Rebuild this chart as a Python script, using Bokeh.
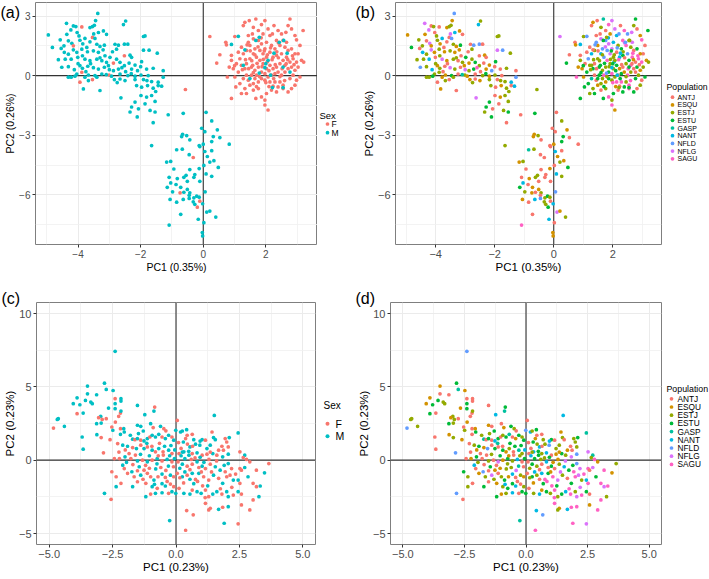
from bokeh.plotting import figure
from bokeh.models import (ColumnDataSource, Span, Title, FixedTicker,
                          CustomJSTickFormatter, Range1d)
from bokeh.core.properties import value
from bokeh.layouts import row, column
from bokeh.embed import file_html
from bokeh.resources import INLINE

FONT = "Liberation Sans"

sex_levels = ["F", "M"]
sex_colors = ["#F8766D", "#00BFC4"]
pop_levels = ["ANTJ", "ESQU", "ESTJ", "ESTU", "GASP", "NANT", "NFLD", "NFLG", "SAGU"]
pop_codes = "AQJUGNDLS"
pop_colors = ["#F8766D", "#D39200", "#93AA00", "#00BA38", "#00C19F",
              "#00B9E3", "#619CFF", "#DB72FB", "#FF61C3"]

# ---------------- panels (a)/(b): PC1 (0.35%) vs PC2 (0.26%) ----------------
pc1_ab = [
    -3.37, -2.48, -2.55, -4.37, -3.44, -4.15, -4.07, -3.88, -3.62, -3.54,
    -3.48, -4.95, -4.57, -4.82, -4.36, -4.23, -4.03, -3.97, -3.54, -3.46,
    -3.19, -3.09, -3.35, -1.91, -1.86, -4.31, -4.20, -4.15, -3.94, -3.78,
    -3.62, -3.40, -3.30, -3.16, -2.82, -2.71, -2.52, -2.41, -2.77, -1.91,
    -1.73, -1.47, -4.54, -4.44, -4.31, -4.15, -4.04, -3.88, -3.72, -3.51,
    -3.35, -3.14, -2.98, -2.77, -2.52, -2.34, -2.29, -4.63, -4.41, -4.22,
    -4.01, -3.86, -3.78, -3.62, -3.40, -3.24, -3.09, -2.87, -2.66, -2.52,
    -2.37, -2.18, -1.97, -4.52, -4.31, -4.12, -3.94, -3.86, -3.69, -3.51,
    -3.35, -3.16, -3.03, -2.87, -2.71, -2.48, -2.29, -2.10, -1.81, -1.60,
    -1.28, -3.88, -4.04, -3.67, -3.46, -3.24, -3.01, -2.93, -2.66, -2.41,
    -2.18, -1.99, -1.76, -4.31, -4.22, -4.10, -3.78, -3.54, -3.40, -2.84,
    -2.66, -2.50, -2.18, -1.91, -1.65, -1.44, -1.28, -3.94, -3.67, -3.83,
    -3.30, -2.63, -2.13, -1.97, -1.78, -1.60, -1.44, -1.33, -1.52, -1.99,
    -1.81, -1.65, -2.18, -1.86, -1.54, -2.29, -2.07, -1.70, -1.54, -1.12,
    -2.34, -2.11, -1.60, -3.70, -3.30, -3.60, -3.00, -4.00, -3.20, -2.60,
    -2.00, -1.80, -3.85, -3.50, -2.90, -4.45, -3.10, -2.30, -3.75, -2.75,
    0.21, 0.43, 0.53, 0.72, 0.74, 0.83, 0.77, 0.90, 1.01, 1.04,
    1.17, 1.22, 1.28, 1.33, 1.47, 1.60, 1.68, 1.76, 1.86, 1.97,
    2.07, 2.13, 2.26, 2.39, 2.50, 2.64, 2.71, 2.77, 2.82, 2.93,
    2.98, 3.09, 3.19, 3.14, 3.21, 3.03, 2.87, 3.09, 2.98, 2.93,
    2.82, 2.71, 2.55, 2.45, 2.34, 2.18, 2.02, 1.97, 2.07, 1.97,
    1.86, 1.76, 1.68, 1.60, 1.49, 1.38, 1.33, 1.28, 1.38, 1.12,
    0.96, 1.06, 0.90, 1.17, 1.28, 1.38, 1.22, 1.49, 1.44, 1.60,
    1.76, 1.86, 2.02, 2.18, 2.29, 2.45, 2.61, 2.71, 2.82, 2.93,
    2.66, 2.55, 2.45, 2.34, 2.23, 2.13, 2.02, 1.91, 1.81, 1.70,
    1.60, 1.49, 1.38, 1.54, 1.65, 1.76, 1.86, 1.97, 2.07, 2.18,
    2.29, 2.39, 2.50, 2.61, 2.71, 2.82, 2.93, 3.03, 2.29, 2.39,
    2.23, 2.13, 1.97, 1.86, 1.76, 1.65, 1.54, 1.44, 1.60, 1.70,
    1.81, 1.91, 2.02, 2.13, 2.23, 2.34, 2.50, 2.61, 2.77, 2.87,
    1.44, 1.65, 1.97, 2.34, 2.55, 1.12, 1.33, 1.01, 1.22, 0.90,
    2.77, 2.98, 2.66, 2.21, 1.91, 1.57, 1.55, 1.72, 1.88, 2.05,
    2.20, 2.40, 1.65, 1.95, 2.15, 2.35, 1.45, 1.60, 1.80, 2.00,
    2.25, 2.45, 2.60, 1.75, 1.50, 2.70, 2.85, 1.35, 2.10, 2.30,
    1.92, 1.58, 2.52, 2.65, 1.40, 1.85, 2.05, 2.40, 1.70, 2.10,
    2.55, 1.25, 1.00, 2.90,
    1.12, 0.90, 1.79, 1.68, 1.33, 2.07, 2.00, 1.97, 1.28, 1.79,
    1.49, 2.26, 2.43, 2.57, 2.68, 2.55, 2.77, 2.21, 2.55, 2.15,
    -0.64, 0.09, 0.27, -0.05, 0.45, 0.05, 0.53, -0.66, -0.53, -0.69,
    -0.43, 0.32, -0.13, 0.00, -0.85, -0.67, 0.27, 0.83, -1.65, -0.45,
    -0.32, 0.13, 0.27, 0.34, 0.21, -1.17, -1.04, -0.11, 0.05, -0.94,
    -0.43, -0.13, 0.02, 0.48, -0.55, -0.27, 0.09, -1.09, -0.83, -0.62,
    -0.30, 0.27, -1.04, -0.87, -0.72, -0.51, -0.11, -1.15, -0.98, -0.74,
    -0.62, -0.51, -0.43, 0.06, -0.45, -1.06, -0.85, -0.64, -0.45, -0.30,
    -0.21, -0.13, -0.11, -0.27, -0.19, -0.02, -0.32, 0.11, 0.21, -0.72,
    0.40, -0.16, 0.02, -1.09, -0.03, -0.02, -0.57,
]
pc2_ab = [
    3.13, 2.75, 2.57, 2.63, 2.77, 2.50, 2.47, 2.45, 2.42, 2.47,
    2.53, 2.05, 1.80, 1.42, 2.08, 2.30, 2.17, 2.00, 1.92, 1.87,
    2.25, 2.08, 2.17, 1.97, 2.00, 1.75, 1.63, 1.50, 1.78, 1.87,
    1.70, 1.58, 1.47, 1.53, 1.58, 1.53, 1.58, 1.58, 1.33, 1.28,
    1.28, 1.13, 1.37, 1.17, 1.08, 1.30, 1.17, 1.33, 1.42, 1.25,
    1.17, 1.00, 0.92, 0.83, 1.00, 1.03, 0.92, 0.80, 0.83, 0.83,
    0.92, 1.00, 0.83, 0.75, 0.83, 0.75, 0.67, 0.63, 0.67, 0.50,
    0.63, 0.53, 0.70, 0.42, 0.45, 0.30, 0.50, 0.37, 0.47, 0.40,
    0.33, 0.42, 0.50, 0.25, 0.33, 0.20, 0.33, 0.25, 0.33, 0.37,
    0.25, 0.17, 0.08, 0.03, 0.00, 0.08, 0.03, -0.03, 0.08, 0.00,
    -0.03, 0.03, 0.00, -0.08, -0.08, -0.03, -0.08, -0.20, -0.08, -0.20,
    -0.17, -0.25, -0.20, -0.20, -0.30, -0.33, -0.08, -0.33, -0.25, -0.67,
    -0.75, -1.12, -0.50, -0.58, -0.50, -0.63, -0.50, -0.53, -0.80, -1.00,
    -1.08, -1.00, -1.33, -1.42, -1.30, -1.58, -1.67, -1.75, -1.83, -1.97,
    -1.83, -2.08, -2.37, 1.20, 0.90, 0.60, 0.30, 0.60, 1.30, 0.40,
    0.45, -0.25, 1.60, 2.10, 1.20, 1.50, 0.05, 0.10, 0.20, -0.35,
    1.97, 0.63, 1.05, 1.68, 1.55, 0.43, -0.07, -1.15, 1.97, -0.57,
    -0.40, -0.90, 2.52, 2.68, 2.77, 2.43, 2.85, 2.27, 2.57, 2.77,
    2.35, 2.02, 2.52, 2.27, 2.10, 2.18, 2.52, 2.85, 2.35, 2.02,
    1.80, 1.52, 2.27, 0.77, 0.68, 1.10, 0.85, -0.07, -0.23, -0.48,
    -0.65, -0.82, -0.48, -0.32, -0.82, -0.73, -0.90, -1.23, -1.73, -1.48,
    -1.07, -0.65, -1.15, -0.73, -0.48, -0.90, -0.65, -0.15, 0.02, 0.18,
    0.35, 0.60, 0.77, 0.85, 1.10, 1.27, 1.43, 1.52, 1.68, 1.85,
    1.77, 1.60, 1.68, 1.52, 1.35, 1.52, 1.43, 1.27, 1.35, 1.10,
    0.93, 0.77, 0.60, 0.43, 0.35, 0.52, 0.35, 0.60, 0.77, 0.93,
    1.10, 0.85, 0.60, 0.43, 0.27, 0.43, 0.18, 0.10, -0.07, 0.02,
    0.10, 0.18, 0.02, 0.18, 0.35, 0.43, 0.27, 0.43, -0.32, -0.57,
    -0.53, -0.32, -0.23, -0.15, -0.32, -0.15, 0.02, -0.23, -0.40, 0.02,
    1.27, 1.10, 0.93, 1.18, 0.93, 1.02, 1.10, 0.52, 0.68, 0.02,
    2.02, 1.35, 1.35, 1.77, 1.77, 1.18, 0.35, -0.07, 0.52, 1.02,
    -0.15, 0.68, 1.68, 2.10, 2.10, 2.10, 0.75, 0.62, 0.45, 0.70,
    0.80, 0.90, 1.05, 1.25, 1.40, 1.20, 0.35, 0.15, -0.05, -0.35,
    -0.15, -0.05, -0.25, 1.45, 1.25, 0.80, 1.00, 0.80, 0.25, 0.55,
    0.82, 0.52, 0.35, 0.60, 1.55, 1.90, 1.05, 1.65, -0.55, -0.55,
    -0.65, 0.30, 0.50, 0.55,
    1.98, 1.57, 1.93, 1.77, 1.30, 0.77, 0.60, 0.40, 0.52, 0.13,
    -0.15, 1.13, 1.68, 1.77, 1.13, 0.43, 0.18, -0.60, -0.60, 0.02,
    -1.90, -1.85, -2.28, -2.65, -2.73, -2.82, -3.12, -2.95, -3.02, -3.07,
    -3.23, -3.07, -3.52, -3.45, -3.73, -3.70, -3.32, -3.45, -3.52, -3.98,
    -4.12, -4.07, -3.78, -4.28, -4.35, -4.35, -4.32, -3.57, -3.82, -4.70,
    -4.73, -4.68, -4.52, -4.62, -5.02, -4.98, -4.95, -5.12, -5.18, -5.12,
    -5.12, -5.07, -5.40, -5.48, -5.62, -5.32, -5.32, -5.62, -5.85, -5.90,
    -5.87, -5.73, -5.90, -5.85, -6.02, -6.23, -6.37, -6.23, -6.18, -6.15,
    -6.07, -6.12, -6.32, -6.48, -6.62, -6.45, -6.35, -6.87, -6.82, -6.98,
    -7.12, -7.23, -7.40, -7.52, -7.90, -8.07, -0.70,
]
sex_ab = (
    "MMMMMMMFMM" "MMMMMMMMFM" "MMMMMMMFMM" "MMMMMMMMMM"
    "MMMMMMMMMM" "MMMMFMMMMM" "MMMMMMMFMM" "MMMMMMMMMM"
    "MMMMMMMMMM" "MFMMMMFMMM" "MMMMMMMFMM" "MMMMMMMFMM"
    "MMMMMMMMMM" "MMMMMMMMMM" "MMMMMMMMMM" "MMMMMMMMMM"
    "FFFFFFFFFF" "FFFFFFFFFF" "FFFFFFFFFF" "FFFFFFFFFF"
    "FFFFFFFFFF" "FFFFFFFFFF" "FFFFFFFFFF" "FFFFFFFFFF"
    "FFFFFFFFFF" "FFFFFFFFFF" "FFFFFFFFFF" "FFFFFFFFFF"
    "FFFFFFFFFF" "FFFFFFFFFF" "FFFFFFFFFF" "FFFFFFFFFF"
    "FFFFFFFFFF" "FFFFFFFFFF" "FFFF"
    "MMMMMMMMMM" "MMMMMMMMMM"
    "MMMMMMMMMM" "MMMMMMMMMM" "FMMMMMMMMM" "MMMMMMMMMM"
    "MMMMMMMMMF" "MMMMMMMMMM" "MMFMFMMMMM" "MMMMMMF"
)
pop_ab = (
    "DJNLQAJAQJ" "JQJUQLAJAD" "QANJJALQJN" "AJQUADDAJL"
    "DJANJLQJAJ" "QAUJAQAJJN" "AJLQJAJQUJ" "AQUDJNQJAL"
    "JAQJUAQDAJ" "AJJQUAJQAJ" "QJAJJUQAJQ" "AQJAJNDAJQ"
    "ALJAQJANJA" "QJUAJUAJUA" "JUAQJALJQS" "AJQLAJGUAJ"
    "LUAAQQSUJU" "UJAQAJGASL" "LNASDLJUAQ" "SAUQJASUAJ"
    "AUSJUAUJQS" "SJUAQUJGAU" "QAJDNJAQDL" "DLNJUSJAUQ"
    "SUJAQUJJSD" "NJAUJJUSJA" "UQSJAUQJSU" "ASJUQJUAJS"
    "DLJANUDSAJ" "ADLSJAUQJA" "USLDQAJUJN" "SAJUDJAUJS"
    "UJSLAQSJUA" "JUSADNJLUQ" "SJUA"
    "DNJUAJUNJD" "UNDJSUAJUN"
    "UAJAQAAQJQ" "AUAQGJUAJA" "AQAQJQJANA" "AQAUJANAQJ"
    "AJNAQAAUJQ" "AQJDAQANDJ" "UJAJUNJLQA" "JNASQQJ"
)

# ---------------- panels (c)/(d): PC1 (0.23%) vs PC2 (0.23%) ----------------
pc1_cd = [
    -2.40, -2.82, -3.49, -2.75, -2.48, -3.13, -3.49, -3.90, -4.05, -3.79,
    -3.57, -3.36, -3.30, -2.17, -2.17, -2.40, -2.40, -2.66, -2.40, -2.19,
    -2.17, -2.26, -2.39, -3.90, -3.66, -2.97, -3.05, -2.91, -2.75, -3.13,
    -2.95, -1.52, -1.23, -0.84, -0.87, -4.68, -4.64, -4.83, -4.40, -3.70,
    -3.66, -3.12, -2.95, -2.86, -2.53, -2.49, -2.19, -2.06, -2.04, -2.19,
    -1.52, -1.48, -1.39, -1.29, -1.00, -0.90, -0.61, -0.48, -1.71, -1.62,
    -1.52, -1.39, -1.26, -1.13, -1.03, -0.94, -0.81, -0.68, -0.55, -0.42,
    -0.29, -0.16, -0.09, -2.30, -2.10, -1.91, -1.71, -1.56, -1.39, -1.26,
    -1.13, -0.94, -0.81, -0.68, -0.51, -0.29, -0.16, -2.43, -2.23, -2.01,
    -1.78, -1.52, -1.32, -1.13, -0.94, -0.74, -0.55, -0.35, -0.16, -0.06,
    -2.53, -2.36, -2.10, -2.04, -1.91, -1.74, -1.65, -1.52, -1.39, -1.26,
    -1.13, -1.00, -0.87, -0.71, -0.55, -0.42, -0.22, -0.09, -2.17, -2.36,
    -1.71, -1.52, -1.19, -0.94, -0.74, -0.42, -0.22, -0.09, -2.82, -2.56,
    -1.19, -1.00, -0.81, -0.55, -0.29, -0.16, -0.25, -1.85, -1.05, -0.60,
    -1.40, -0.95, -0.45, -0.70, -0.30, -1.20, -0.80, -0.40, -1.60, -0.20,
    -1.70, -1.45, -1.05, -0.75, -0.50, -0.25, -0.65, -1.15, -0.35, -0.85,
    -2.00, -1.95, -2.25, -1.30, -0.55, -0.10, -0.05, -0.40, -1.80, -2.60,
    0.05, 1.51, -0.01, 0.18, 0.25, 0.42, 0.44, 0.38, 0.64, 0.70,
    0.29, 0.55, 0.77, 0.94, 1.03, 1.16, 1.42, 1.48, 1.55, 1.94,
    2.10, 2.00, 1.81, 1.35, 1.68, 1.87, 2.06, 2.45, 0.12, 0.31,
    0.51, 0.64, 0.83, 1.03, 1.22, 1.22, 1.45, 1.61, 1.84, 2.06,
    2.52, 2.71, 2.65, 2.91, 2.78, 0.08, 0.25, 0.44, 0.64, 0.83,
    1.03, 1.16, 1.35, 1.55, 1.74, 1.94, 2.06, 2.19, 2.52, 2.58,
    2.71, 3.17, 3.49, 3.66, 0.05, 0.25, 0.44, 0.64, 0.77, 0.90,
    1.09, 1.29, 1.48, 1.68, 1.84, 2.00, 2.13, 2.26, 2.45, 2.52,
    2.84, 3.04, 3.17, 3.32, 0.12, 0.31, 0.55, 0.64, 0.83, 0.99,
    1.16, 1.29, 1.45, 1.61, 1.81, 2.00, 2.06, 2.26, 2.45, 2.58,
    3.04, 3.27, -0.01, 1.16, 1.35, 1.29, 1.68, 1.84, 2.06, 2.58,
    2.91, 0.42, 0.68, 1.90, 2.45, 0.38, 0.20, 0.45, 0.95, 1.30,
    0.15, 0.55, 0.30, 0.70, 1.05, 0.20, 0.60, 1.40, 0.90, 0.35,
    0.10, 0.50, 0.75, 1.10, 1.60, 0.35, 0.85, 1.25, 1.75, 2.20,
    0.15, 0.55, 1.00, 1.90, 2.35, 0.65, 0.25, 0.95, 1.35, 1.15,
]
pc2_cd = [
    7.42, 5.25, 5.05, 4.82, 4.75, 4.46, 4.52, 4.25, 3.85, 3.78,
    4.07, 3.96, 3.85, 4.19, 4.03, 4.19, 3.85, 3.55, 3.51, 3.21,
    3.35, 2.99, 2.60, 3.17, 3.21, 2.99, 2.90, 2.78, 2.83, 2.49,
    2.53, 3.73, 3.10, 3.62, 3.35, 2.78, 2.83, 2.19, 2.31, 1.58,
    0.75, 1.74, 1.54, 0.50, 2.26, 2.04, 2.15, 2.15, 1.92, 1.76,
    2.38, 1.81, 2.31, 1.99, 2.49, 2.22, 2.31, 2.15, 1.43, 1.40,
    1.47, 1.36, 1.31, 1.47, 1.58, 1.70, 1.58, 1.76, 1.58, 1.47,
    1.70, 1.58, 1.36, 1.13, 1.02, 0.95, 0.86, 0.79, 1.02, 0.79,
    0.90, 0.68, 0.57, 0.79, 0.57, 0.68, 0.45, 0.11, 0.11, 0.23,
    0.11, -0.05, 0.00, -0.11, 0.00, 0.11, -0.05, 0.05, -0.11, 0.11,
    -0.79, -1.13, -0.34, -0.57, -0.90, -0.79, -1.13, -0.72, -1.02, -0.68,
    -0.90, -1.13, -1.36, -1.13, -0.95, -1.18, -1.02, -1.13, -1.58, -1.81,
    -1.81, -1.47, -1.58, -1.81, -1.92, -1.76, -1.63, -1.81, -2.26, -2.67,
    -2.49, -2.31, -2.26, -2.22, -2.26, -2.15, -4.12, 0.45, 0.30, -0.50,
    0.40, 0.95, 0.95, 0.30, -0.40, -0.35, -0.60, -0.70, 0.35, 1.00,
    -0.30, -0.45, -0.55, -0.25, 0.35, 0.30, 1.15, 1.15, -1.45, -1.65,
    0.70, -0.15, 0.55, -1.30, -1.60, -0.45, 0.70, 2.00, 1.70, 1.40,
    2.71, 3.05, 2.04, 1.92, 1.99, 2.08, 1.70, 1.47, 1.76, 1.40,
    1.24, 0.90, 1.09, 1.02, 1.40, 1.36, 1.92, 1.54, 1.40, 1.47,
    1.54, 1.24, 0.95, 1.02, 0.68, 0.68, 0.90, 1.86, 0.45, 0.57,
    0.34, 0.45, 0.50, 0.34, 0.79, 0.41, 0.45, 0.34, 0.23, 0.41,
    0.57, 0.34, 0.18, -0.11, 0.05, -0.11, -0.27, -0.41, -0.27, -0.11,
    -0.41, -0.57, -0.27, -0.45, -0.68, -0.79, -0.23, -0.57, -0.57, -0.68,
    -0.50, -0.68, -0.86, -0.23, -0.90, -1.13, -1.02, -0.90, -1.31, -0.90,
    -1.13, -1.36, -1.02, -1.24, -1.58, -1.13, -1.02, -1.36, -1.36, -1.58,
    -1.13, -1.58, -1.81, -1.76, -1.92, -2.26, -2.31, -2.04, -2.15, -2.26,
    -2.04, -2.49, -2.31, -2.15, -2.31, -2.15, -2.49, -2.38, -2.15, -2.31,
    -2.71, -2.49, -2.26, -2.94, -3.28, -3.39, -3.35, -3.21, -3.17, -3.05,
    -3.39, -3.44, -3.73, -4.30, -4.34, -4.78, 0.80, 1.10, 0.20, 0.05,
    -0.55, -0.65, -1.55, -1.60, -1.75, 0.30, 0.05, -0.80, -0.50, 0.10,
    1.20, 0.60, 0.15, -0.15, -0.05, -0.80, -1.45, -1.75, -1.95, -1.85,
    -1.20, -1.30, -0.80, -0.35, -0.95, 0.95, 0.55, 1.30, 0.55, -2.55,
]
sex_cd = (
    "MMMMMMMMMM" "MMMMMFMMMF" "MFFFMMFFFM" "MMMFMMMFMM"
    "MMFFFMFMMM" "MMMMMFMFMF" "MFMMFMMMFM" "MFMFMMFMFM"
    "FMFMFMFFFM" "FMFMFMFMFM" "FFMFFMFFMF" "FFMFMFMFFM"
    "MFFMFMFFMF" "MFMMFMMFMF" "MFMFMFMFFM" "FMFMFMFMFM"
    "FMFFMFMFMF"
    "FMMMMMFFFM" "MMMMMFFMMF" "MFFMFFFMFM" "MFMFMFMFMM"
    "FMFFFFMFFM" "MFFMMFMFFF" "MFMFFMFMFM" "FFMFMFFMMF"
    "MFFMFMMFMM" "FFMMFMMFMF" "FMMFFFMFMF" "FFFMFFFFMF"
    "MFFMFMFFFM" "FMFMFMFMFF" "FMFMFFMMFF"
)
pop_cd = (
    "DUQGQAAQQU" "UJJAAAUQUA" "JAQUAJQJAU" "JANUGJJDJA"
    "AQJDAJAQUA" "QJAUAQUJGA" "UANUAJUGAQ" "UJUAJUQDAU"
    "AUQJAGJAQU" "AJALQUJNAU" "UJNAQDJALQ" "AJUQNAJQAJ"
    "UAQJUNAJDA" "UQJNAUGAUJ" "JAUQGAJLAU" "AUQJAJUGAN"
    "QJAJUANAJQ"
    "ANDNJUAQAJ" "UNJDUAQJAJ" "UJAJQAJGAN" "UJNAJQUJLD"
    "LGJQSAUJAN" "UAJNUSDLSA" "LSQJAUJNSU" "SLJAUSLJNS"
    "USLSAJNQUJ" "SJUNSJLSUA" "SJUSQJNSSQ" "SNDSLSAJUQ"
    "JAQUSNJLAU" "AUJQLNSUSL" "JAQUSAJNQS"
)

for name, a, b, s, q in [("ab", pc1_ab, pc2_ab, sex_ab, pop_ab),
                         ("cd", pc1_cd, pc2_cd, sex_cd, pop_cd)]:
    if not (len(a) == len(b) == len(s) == len(q)):
        raise SystemExit(f"length mismatch {name}: {len(a)} {len(b)} {len(s)} {len(q)}")

pop_name = dict(zip(pop_codes, pop_levels))


def fmt(dec):
    return CustomJSTickFormatter(
        code="return (tick < -1e-9 ? '\u2212' : '') + Math.abs(tick).toFixed(%d);" % dec)


def tag_title(tag, offset, standoff):
    style = dict(text=tag, align="left", offset=offset, vertical_align="bottom",
                 text_font=FONT, text_font_size="16px", text_font_style="normal",
                 text_color="black")
    try:
        return Title(standoff=standoff, **style)
    except Exception:
        return Title(standoff=0, **style)


def main_panel(tag, pc1, pc2, groups, levels, colors, xlim, ylim,
               xt, xm, yt, ym, xdec, xlab, ylab, W, H, borders,
               tick_fs, title_fs, tag_offset, tag_standoff):
    cmap = dict(zip(levels, colors))
    src = ColumnDataSource(dict(x=pc1, y=pc2, c=[cmap[g] for g in groups]))
    bl, br, bt, bb = borders
    p = figure(width=W, height=H, x_range=Range1d(*xlim), y_range=Range1d(*ylim),
               output_backend="svg", toolbar_location=None,
               min_border_left=bl, min_border_right=br, min_border_top=bt,
               min_border_bottom=bb, x_axis_label=xlab, y_axis_label=ylab,
               background_fill_color="white", border_fill_color="white")
    p.outline_line_color = "#7F7F7F"
    p.outline_line_width = 1
    p.xaxis.ticker = FixedTicker(ticks=xt, minor_ticks=xm)
    p.yaxis.ticker = FixedTicker(ticks=yt, minor_ticks=ym)
    p.xaxis.formatter = fmt(xdec)
    p.yaxis.formatter = fmt(0)
    for ax in (p.xaxis[0], p.yaxis[0]):
        ax.axis_line_color = None
        ax.major_tick_line_color = "#333333"
        ax.major_tick_out = 3
        ax.major_tick_in = 0
        ax.minor_tick_line_color = None
        ax.major_label_text_font = FONT
        ax.major_label_text_font_size = tick_fs
        ax.major_label_text_color = "#4D4D4D"
        ax.major_label_standoff = 1
        ax.axis_label_text_font = FONT
        ax.axis_label_text_font_size = title_fs
        ax.axis_label_text_font_style = "normal"
        ax.axis_label_text_color = "black"
        ax.axis_label_standoff = 0
    for g in (p.xgrid[0], p.ygrid[0]):
        g.grid_line_color = "#EBEBEB"
        g.grid_line_width = 1
        g.minor_grid_line_color = "#F0F0F0"
        g.minor_grid_line_width = 0.8
    p.add_layout(Span(location=0, dimension="height", line_color="#333333",
                      line_width=1.1, level="underlay"))
    p.add_layout(Span(location=0, dimension="width", line_color="#333333",
                      line_width=1.1, level="underlay"))
    p.scatter("x", "y", source=src, size=3.7, marker="circle",
              fill_color="c", line_color=None)
    p.add_layout(tag_title(tag, tag_offset, tag_standoff), "above")
    return p


def legend_panel(title, levels, colors, W, H, frame_top, frame_bottom, title_xy,
                 key_x, label_x, y0, step, title_fs, label_fs, key_size):
    # vertical axis of this small panel is expressed in page pixels
    p = figure(width=W, height=H, x_range=Range1d(0, W),
               y_range=Range1d(frame_bottom, frame_top),
               x_axis_type=None, y_axis_type=None, output_backend="svg",
               toolbar_location=None, min_border=0, outline_line_color=None,
               background_fill_color="white", border_fill_color="white")
    p.grid.visible = False
    ys = [y0 + i * step for i in range(len(levels))]
    p.text(x=[title_xy[0]], y=[title_xy[1]], text=[title], text_font=value(FONT),
           text_font_size=value(title_fs), text_color="black",
           text_baseline="middle", text_align="left")
    p.scatter(x=[key_x] * len(levels), y=ys, size=key_size, marker="circle",
              fill_color=colors, line_color=None)
    p.text(x=[label_x] * len(levels), y=ys, text=levels, text_font=value(FONT),
           text_font_size=value(label_fs), text_color="black",
           text_baseline="middle", text_align="left")
    return p


sex_ab_l = list(sex_ab)
pop_ab_l = [pop_name[c] for c in pop_ab]
sex_cd_l = list(sex_cd)
pop_cd_l = [pop_name[c] for c in pop_cd]

xa_t, xa_m = [-4, -2, 0, 2], [-5, -3, -1, 1, 3]
ya_t, ya_m = [-6, -3, 0, 3], [-7.5, -4.5, -1.5, 1.5]
xc_t, xc_m = [-5, -2.5, 0, 2.5, 5], [-3.75, -1.25, 1.25, 3.75]
yc_t, yc_m = [-5, 0, 5, 10], [-2.5, 2.5, 7.5]
xlim_ab, ylim_ab = (-5.36, 3.65), (-8.5, 3.68)
xlim_cd, ylim_cd = (-5.5, 5.5), (-5.75, 10.75)

# top row: height 290 (frames 2..244); bottom row: height 289 (frames 302..544)
pa = main_panel("(a)", pc1_ab, pc2_ab, sex_ab_l, sex_levels, sex_colors,
                xlim_ab, ylim_ab, xa_t, xa_m, ya_t, ya_m, 0,
                "PC1 (0.35%)", "PC2 (0.26%)", 317, 290, (35, 0, 2, 46),
                "10px", "10.5px", -35, -36)
la = legend_panel("Sex", sex_levels, sex_colors, 37, 290, 2, 244, (2, 115), 10, 14,
                  123.5, 8.7, "9.5px", "8.5px", 3.7)
pb = main_panel("(b)", pc1_ab, pc2_ab, pop_ab_l, pop_levels, pop_colors,
                xlim_ab, ylim_ab, xa_t, xa_m, ya_t, ya_m, 0,
                "PC1 (0.35%)", "PC2 (0.26%)", 309, 290, (41, 2, 2, 46),
                "11px", "11.5px", -40, -36)
lb = legend_panel("Population", pop_levels, pop_colors, 46, 290, 2, 244, (3, 86),
                  9, 14, 96.7, 7.7, "8.7px", "7px", 3.7)
pc = main_panel("(c)", pc1_cd, pc2_cd, sex_cd_l, sex_levels, sex_colors,
                xlim_cd, ylim_cd, xc_t, xc_m, yc_t, yc_m, 1,
                "PC1 (0.23%)", "PC2 (0.23%)", 317, 289, (34, 2, 12, 35),
                "11px", "11.5px", -35, -8)
lc = legend_panel("Sex", sex_levels, sex_colors, 37, 289, 302, 544, (6, 405), 10, 18,
                  423.3, 12.4, "10px", "10.5px", 4)
pd_ = main_panel("(d)", pc1_cd, pc2_cd, pop_cd_l, pop_levels, pop_colors,
                 xlim_cd, ylim_cd, xc_t, xc_m, yc_t, yc_m, 1,
                 "PC1 (0.23%)", "PC2 (0.23%)", 309, 289, (33, 2, 12, 35),
                 "11px", "11.5px", -35, -8)
ld = legend_panel("Population", pop_levels, pop_colors, 46, 289, 302, 544, (3, 388.3),
                  8, 14, 398.3, 8.2, "8.8px", "8.3px", 3.7)

layout = column(row(pa, la, pb, lb), row(pc, lc, pd_, ld))
open("out.html", "w").write(file_html(layout, INLINE))
